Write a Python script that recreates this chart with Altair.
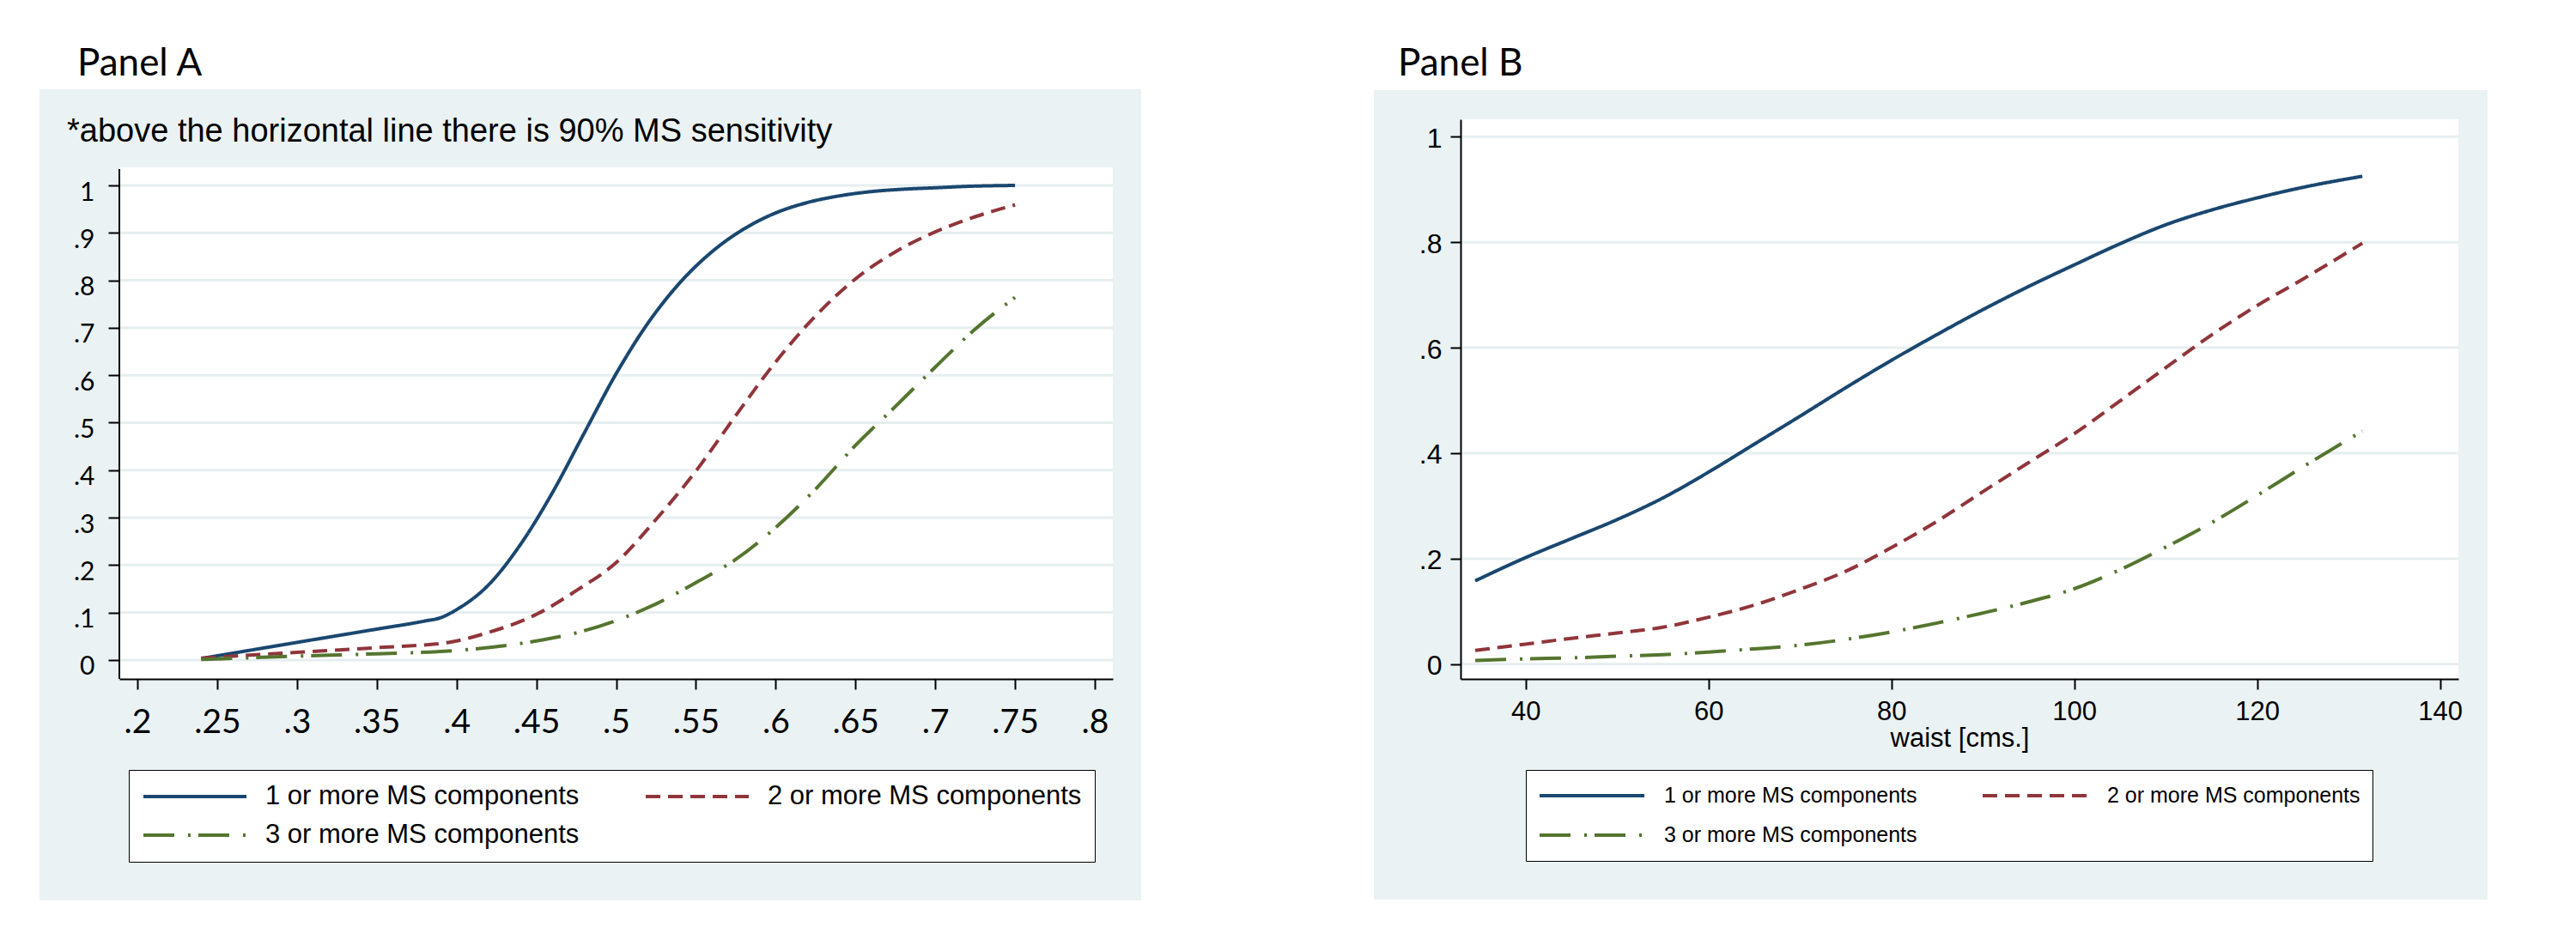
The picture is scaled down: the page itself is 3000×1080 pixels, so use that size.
import altair as alt
import pandas as pd

SERIES = ["1 or more MS components", "2 or more MS components", "3 or more MS components"]
COLORS = ["#1A476F", "#90353B", "#55752F"]
DASHES = [[1, 0], [17, 9], [36, 16, 3, 9]]
BG = "#EAF2F3"
GRID = "#E6EEF0"

# ---------------- Panel A data ----------------
a1_x = [0.24, 0.30, 0.35, 0.38, 0.39, 0.40, 0.42, 0.44, 0.46, 0.48, 0.50, 0.52, 0.54, 0.56,
        0.58, 0.60, 0.62, 0.64, 0.66, 0.68, 0.70, 0.72, 0.75]
a1_y = [0.003, 0.037, 0.065, 0.082, 0.089, 0.106, 0.158, 0.243, 0.352, 0.478, 0.603, 0.71,
        0.795, 0.86, 0.908, 0.942, 0.964, 0.978, 0.987, 0.992, 0.995, 0.998, 1.0]
a2_x = [0.24, 0.30, 0.35, 0.395, 0.42, 0.45, 0.475, 0.50, 0.525, 0.55, 0.575, 0.60, 0.625,
        0.65, 0.675, 0.70, 0.725, 0.75]
a2_y = [0.004, 0.016, 0.026, 0.037, 0.058, 0.096, 0.146, 0.205, 0.296, 0.398, 0.515, 0.628,
        0.725, 0.803, 0.860, 0.902, 0.934, 0.959]
a3_x = [0.24, 0.30, 0.35, 0.40, 0.45, 0.475, 0.50, 0.525, 0.55, 0.575, 0.60, 0.625, 0.65,
        0.675, 0.70, 0.725, 0.75]
a3_y = [0.001, 0.008, 0.013, 0.02, 0.04, 0.057, 0.083, 0.118, 0.163, 0.212, 0.279, 0.36,
        0.452, 0.534, 0.617, 0.697, 0.764]
a_xticks = [0.2, 0.25, 0.3, 0.35, 0.4, 0.45, 0.5, 0.55, 0.6, 0.65, 0.7, 0.75, 0.8]
a_yticks = [0, 0.1, 0.2, 0.3, 0.4, 0.5, 0.6, 0.7, 0.8, 0.9, 1]

# ---------------- Panel B data ----------------
b_x = [34.5, 40, 45, 50, 55, 60, 65, 70, 75, 80, 85, 90, 95, 100, 105, 110, 115, 120, 125, 131.5]
b1_y = [0.158, 0.202, 0.238, 0.274, 0.315, 0.364, 0.417, 0.470, 0.524, 0.576, 0.625, 0.672,
        0.716, 0.757, 0.797, 0.833, 0.861, 0.884, 0.904, 0.925]
b2_y = [0.026, 0.038, 0.049, 0.059, 0.070, 0.089, 0.112, 0.142, 0.176, 0.221, 0.271, 0.327,
        0.382, 0.437, 0.499, 0.562, 0.624, 0.680, 0.730, 0.798]
b3_y = [0.007, 0.010, 0.012, 0.015, 0.018, 0.023, 0.029, 0.036, 0.047, 0.061, 0.078, 0.097,
        0.118, 0.143, 0.179, 0.222, 0.268, 0.320, 0.374, 0.442]
b_xticks = [40, 60, 80, 100, 120, 140]
b_yticks = [0, 0.2, 0.4, 0.6, 0.8, 1]


def frame(pairs):
    rows = []
    for name, xs, ys in pairs:
        for xv, yv in zip(xs, ys):
            rows.append({"series": name, "x": xv, "y": yv})
    return pd.DataFrame(rows)


dfA = frame([(SERIES[0], a1_x, a1_y), (SERIES[1], a2_x, a2_y), (SERIES[2], a3_x, a3_y)])
dfB = frame([(SERIES[0], b_x, b1_y), (SERIES[1], b_x, b2_y), (SERIES[2], b_x, b3_y)])
one = pd.DataFrame({"k": [0]})

LABEL_EXPR = ("datum.value == 0 ? '0' : (datum.value == 1 ? '1' : "
              "replace(format(datum.value, '.2~f'), '0.', '.'))")


def axis(**kw):
    base = dict(grid=False, tickColor="black", tickWidth=2, domainColor="black",
                domainWidth=2, labelColor="black", labelOverlap=False, labelFlush=False,
                zindex=1)
    base.update(kw)
    return alt.Axis(**base)


def legend(x, y, colpad, rowpad, pad, sym, font_size, offset):
    return alt.Legend(title=None, orient="none", legendX=x, legendY=y, columns=2,
                      direction="horizontal",
                      columnPadding=colpad, rowPadding=rowpad, padding=pad,
                      fillColor="white", strokeColor="black", symbolType="stroke",
                      symbolSize=sym * sym, symbolStrokeWidth=4, clipHeight=32,
                      labelFont="Liberation Sans", labelFontSize=font_size,
                      labelColor="black", labelOffset=offset, labelLimit=2000)


# Both panels share the same plot origin (top of panel B's plot region)
H = 652

# ---------------- Panel A ----------------
WA = 1157
TOPA = 56  # white plot region of panel A starts lower than panel B's
xA = alt.Scale(domain=[0.1887, 0.8113], nice=False, zero=False)
yA = alt.Scale(domain=[-0.04, 1.1393], nice=False, zero=False)
legA = legend(11, 758, 75, 13, 15, 120, 31, 20)
yAxisA = axis(values=a_yticks, labelExpr=LABEL_EXPR, title=None, tickSize=13,
              labelFont="Lato", labelFontSize=30, labelPadding=16,
              labelBaseline="middle", labelOffset=8, domain=False)
xAxisA = axis(values=a_xticks, labelExpr=LABEL_EXPR, title=None, tickSize=12,
              labelFont="Lato", labelFontSize=39, labelPadding=19)

bgA = alt.Chart(one).mark_rect(color=BG).encode(
    x=alt.value(-93), x2=alt.value(1190), y=alt.value(-35), y2=alt.value(910))
whiteA = alt.Chart(one).mark_rect(color="white").encode(
    x=alt.value(0), x2=alt.value(WA), y=alt.value(TOPA), y2=alt.value(H))
gridA = alt.Chart(pd.DataFrame({"g": a_yticks})).mark_rule(color=GRID, strokeWidth=3).encode(
    y=alt.Y("g:Q", scale=yA, axis=yAxisA), x=alt.value(0), x2=alt.value(WA))
domA = alt.Chart(one).mark_rule(color="black", strokeWidth=2).encode(
    x=alt.value(0), y=alt.value(TOPA + 2), y2=alt.value(H))
linesA = alt.Chart(dfA).mark_line(strokeWidth=4, interpolate="monotone").encode(
    x=alt.X("x:Q", scale=xA, axis=xAxisA),
    y=alt.Y("y:Q", scale=yA, axis=yAxisA),
    color=alt.Color("series:N", scale=alt.Scale(domain=SERIES, range=COLORS), legend=legA),
    strokeDash=alt.StrokeDash("series:N", scale=alt.Scale(domain=SERIES, range=DASHES),
                              legend=legA),
)
titleA = alt.Chart(one).mark_text(text="Panel A", font="Lato", fontSize=44, align="left",
                                  baseline="alphabetic", color="black").encode(
    x=alt.value(-49), y=alt.value(-51))
subA = alt.Chart(one).mark_text(text="*above the horizontal line there is 90% MS sensitivity",
                                font="Liberation Sans", fontSize=38, align="left",
                                baseline="alphabetic", color="black").encode(
    x=alt.value(-61), y=alt.value(26))
panelA = alt.layer(bgA, whiteA, gridA, domA, linesA, titleA, subA).properties(width=WA, height=H)

# ---------------- Panel B ----------------
WB = 1162
xB = alt.Scale(domain=[32.9, 142.0], nice=False, zero=False)
yB = alt.Scale(domain=[-0.028, 1.033], nice=False, zero=False)
legB = legend(76, 758, 74, 14, 14, 122, 25, 21)
yAxisB = axis(values=b_yticks, labelExpr=LABEL_EXPR, title=None, tickSize=12,
              labelFont="Liberation Sans", labelFontSize=32, labelPadding=10,
              labelBaseline="middle", labelOffset=2)
xAxisB = axis(values=b_xticks, title="waist [cms.]", tickSize=12,
              labelFont="Liberation Sans", labelFontSize=31, labelPadding=11,
              titleFont="Liberation Sans", titleFontSize=31, titleFontWeight="normal",
              titleColor="black", titlePadding=1)

bgB = alt.Chart(one).mark_rect(color=BG).encode(
    x=alt.value(-101), x2=alt.value(1196), y=alt.value(-34), y2=alt.value(909))
whiteB = alt.Chart(one).mark_rect(color="white").encode(
    x=alt.value(0), x2=alt.value(WB), y=alt.value(0), y2=alt.value(H))
gridB = alt.Chart(pd.DataFrame({"g": b_yticks})).mark_rule(color=GRID, strokeWidth=3).encode(
    y=alt.Y("g:Q", scale=yB, axis=yAxisB), x=alt.value(0), x2=alt.value(WB))
linesB = alt.Chart(dfB).mark_line(strokeWidth=4, interpolate="monotone").encode(
    x=alt.X("x:Q", scale=xB, axis=xAxisB),
    y=alt.Y("y:Q", scale=yB, axis=yAxisB),
    color=alt.Color("series:N", scale=alt.Scale(domain=SERIES, range=COLORS), legend=legB),
    strokeDash=alt.StrokeDash("series:N", scale=alt.Scale(domain=SERIES, range=DASHES),
                              legend=legB),
)
titleB = alt.Chart(one).mark_text(text="Panel B", font="Lato", fontSize=44, align="left",
                                  baseline="alphabetic", color="black").encode(
    x=alt.value(-73), y=alt.value(-51))
panelB = alt.layer(bgB, whiteB, gridB, linesB, titleB).properties(width=WB, height=H)

chart = (
    alt.hconcat(panelA, panelB, spacing=271)
    .resolve_scale(x="independent", y="independent", color="independent",
                   strokeDash="independent")
    .resolve_legend(color="independent", strokeDash="independent")
    .properties(padding={"left": 38, "top": 45, "right": 5, "bottom": 5},
                background="white")
    .configure_view(stroke=None)
)

chart.save("out.html", embed_options={"renderer": "svg", "actions": False})
